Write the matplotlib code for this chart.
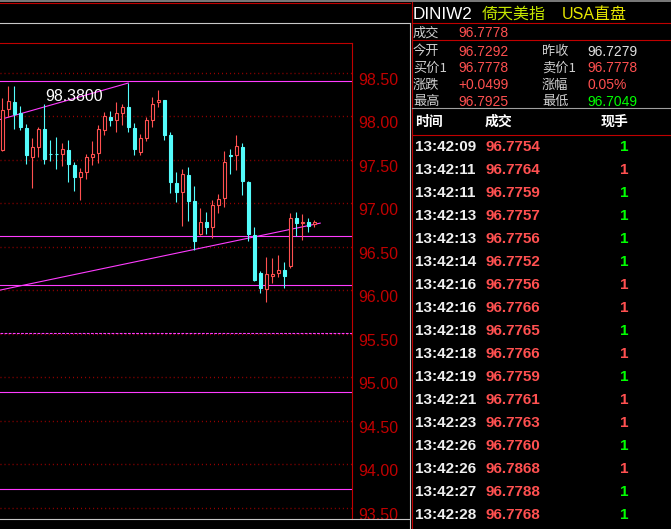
import numpy as np
import matplotlib.pyplot as plt
from matplotlib.lines import Line2D

# ---- candle data ----
opens = [97.61, 98.08, 98.16, 98.04, 97.86, 97.53, 97.65, 97.85, 97.57, 97.57,
         97.57, 97.61, 97.44, 97.30, 97.36, 97.53, 97.58, 97.84, 97.99, 97.96,
         98.04, 98.11, 97.86, 97.59, 97.75, 97.95, 98.16, 98.19, 97.78, 97.23,
         97.13, 97.32, 97.02, 96.65, 96.78, 96.73, 96.98, 97.06, 97.55, 97.55,
         97.65, 97.24, 96.63, 96.20, 96.01, 96.16, 96.20, 96.23, 96.28, 96.83,
         96.77, 96.78, 96.76]
highs = [98.21, 98.35, 98.35, 98.12, 97.91, 97.75, 97.87, 98.14, 97.73, 97.76,
         97.69, 97.73, 97.47, 97.40, 97.57, 97.71, 97.90, 98.05, 98.06, 98.16,
         98.14, 98.38, 97.92, 97.80, 97.99, 98.22, 98.30, 98.19, 97.82, 97.36,
         97.39, 97.41, 97.20, 96.94, 96.90, 97.04, 97.11, 97.60, 97.62, 97.78,
         97.69, 97.25, 96.73, 96.22, 96.38, 96.37, 96.40, 96.32, 96.89, 96.90,
         96.88, 96.83, 96.81]
lows = [97.60, 97.99, 97.85, 97.84, 97.45, 97.17, 97.53, 97.45, 97.48, 97.39,
        97.43, 97.24, 97.14, 97.04, 97.28, 97.44, 97.46, 97.78, 97.89, 97.82,
        97.90, 97.82, 97.55, 97.55, 97.71, 97.88, 98.10, 97.73, 97.12, 97.01,
        96.74, 96.79, 96.46, 96.63, 96.65, 96.60, 96.89, 96.96, 97.34, 97.38,
        97.09, 96.56, 96.11, 95.97, 95.86, 96.08, 96.15, 96.03, 96.26, 96.62,
        96.58, 96.67, 96.72]
closes = [98.07, 98.17, 98.02, 97.87, 97.55, 97.64, 97.85, 97.51, 97.56, 97.56,
          97.62, 97.45, 97.30, 97.36, 97.53, 97.57, 97.85, 98.00, 97.95, 98.04,
          98.10, 97.87, 97.62, 97.75, 97.95, 98.14, 98.19, 97.78, 97.24, 97.13,
          97.33, 97.03, 96.57, 96.78, 96.73, 96.98, 97.05, 97.47, 97.54, 97.66,
          97.25, 96.65, 96.12, 96.02, 96.19, 96.18, 96.23, 96.16, 96.83, 96.77,
          96.78, 96.74, 96.78]

# horizontal support/resistance lines and trend lines
h_levels = [98.40, 96.62, 96.06, 94.83, 93.72]
h_dashed = [95.51]
trend_a_x, trend_a_y = [-0.4, 21], [97.96, 98.38]
trend_b_x, trend_b_y = [-0.4, 53], [96.00, 96.77]
high_label = '98.3800'
y_ticks = [93.5, 94.0, 94.5, 95.0, 95.5, 96.0, 96.5, 97.0, 97.5, 98.0, 98.5]

# ---- quote panel ----
title_code = 'DINIW2'
title_name = '倚天美指'
title_mkt = 'USA直盘'
last_label, last_value = '成交', '96.7778'
q_left_labels = ['今开', '买价1', '涨跌', '最高']
q_left_values = ['96.7292', '96.7778', '+0.0499', '96.7925']
q_right_labels = ['昨收', '卖价1', '涨幅', '最低']
q_right_values = ['96.7279', '96.7778', '0.05%', '96.7049']
q_right_colors = ['#e0e0e0', '#ff5050', '#ff5050', '#00ff00']

# ---- tick list ----
tick_header = ['时间', '成交', '现手']
tick_times = ['13:42:09', '13:42:11', '13:42:11', '13:42:13', '13:42:13', '13:42:14',
              '13:42:16', '13:42:16', '13:42:18', '13:42:18', '13:42:19', '13:42:21',
              '13:42:23', '13:42:26', '13:42:26', '13:42:27', '13:42:28']
tick_prices = ['96.7754', '96.7764', '96.7759', '96.7757', '96.7756', '96.7752',
               '96.7756', '96.7766', '96.7765', '96.7766', '96.7759', '96.7761',
               '96.7763', '96.7760', '96.7868', '96.7788', '96.7768']
tick_vols = [1] * 17
tick_side = ['b', 's', 'b', 'b', 'b', 'b', 's', 's', 'b', 's', 'b', 's', 's', 'b', 's', 'b', 'b']

RED = '#ff5050'
CYAN = '#54fcfc'
MAG = '#ff3cff'
NUM = ['Liberation Sans', 'Noto Sans CJK SC']
CJK = ['Noto Sans CJK SC', 'Liberation Sans']

W, H = 671, 529
fig = plt.figure(figsize=(W / 100, H / 100), dpi=100, facecolor='black')


def fx(px):
    return px / W


def fy(py):
    return 1 - py / H


ax = fig.add_axes([0, fy(519), fx(352), (519 - 43) / H])
ax.set_facecolor('black')

o = np.array(opens)
c = np.array(closes)
x = np.arange(len(o))
up = c >= o
cols = np.where(up, RED, CYAN)

ax.vlines(x, lows, highs, colors=cols, linewidth=0.8, zorder=3)
bottoms = np.minimum(o, c)
heights = np.maximum(np.abs(c - o), 0.005)
ax.bar(x, heights, bottom=bottoms, width=0.55,
       color=np.where(up, 'black', CYAN), edgecolor=cols, linewidth=0.8, zorder=4)

for lv in h_levels:
    ax.axhline(lv, color=MAG, linewidth=0.8, zorder=2)
for lv in h_dashed:
    ax.axhline(lv, color=MAG, linewidth=0.8, linestyle=(0, (2.5, 1.2)), zorder=2)
ax.plot(trend_a_x, trend_a_y, color=MAG, linewidth=0.8, zorder=2)
ax.plot(trend_b_x, trend_b_y, color=MAG, linewidth=0.8, zorder=2)

ax.text(7.1, 98.22, high_label, color='white', fontsize=11.4, family=NUM,
        va='center', ha='left', zorder=5)

ax.set_xlim(-0.38, 58.3)
ax.set_ylim(93.37, 98.84)
ax.set_xticks([])
ax.set_yticks(y_ticks)
ax.set_yticklabels(['%.2f' % v for v in y_ticks])
ax.tick_params(axis='y', left=False, right=False, labelleft=False, labelright=True,
               pad=1, labelcolor='#c00000', labelsize=11.5)
for lab in ax.get_yticklabels():
    lab.set_va('top')
    lab.set_family(NUM)
ax.grid(axis='y', color='#a00000', linestyle=(0, (0.7, 2.2)), linewidth=1)
for s in ['left', 'bottom']:
    ax.spines[s].set_visible(False)
ax.spines['top'].set_color('#c00000')
ax.spines['right'].set_color('#c00000')
ax.spines['top'].set_linewidth(0.8)
ax.spines['right'].set_linewidth(0.8)


def fline(x0, x1, y0, y1, color, lw=0.8):
    fig.add_artist(Line2D([fx(x0), fx(x1)], [fy(y0), fy(y1)], color=color, linewidth=lw))


# frame lines
fline(0, W, 0.5, 0.5, '#909090', 1.2)
fline(0, 410, 2.5, 2.5, '#c00000')
fline(0, 410, 23, 23, '#c8c8c8')
fline(410, 410, 23, H, '#c8c8c8')
fline(0, 410, 519, 519, '#c8c8c8')
fline(412, 412, 2, H, '#c00000')
fline(412, W, 23, 23, '#c00000')
fline(412, W, 40, 40, '#c00000')
fline(412, W, 107.5, 107.5, '#a0a0a0')
fline(412, W, 135, 135, '#c00000')

# title
fig.text(fx(413), fy(14.5), title_code, color='white', fontsize=12.3, family=NUM, va='center')
fig.text(fx(482), fy(14.5), title_name, color='#c4e600', fontsize=11.5, family=CJK, va='center')
fig.text(fx(562), fy(14.5), title_mkt, color='#e6e600', fontsize=11.5, family=NUM, va='center')

# quote block
fig.text(fx(413), fy(33), last_label, color='#d0d0d0', fontsize=9.5, family=CJK, va='center')
fig.text(fx(458), fy(33), last_value, color=RED, fontsize=10, family=NUM, va='center')
row_y = [51.7, 68.3, 85, 101.7]
for i, yy in enumerate(row_y):
    fig.text(fx(413), fy(yy), q_left_labels[i], color='#d0d0d0', fontsize=9.5, family=CJK, va='center')
    fig.text(fx(458), fy(yy), q_left_values[i], color=RED, fontsize=10, family=NUM, va='center')
    fig.text(fx(542), fy(yy), q_right_labels[i], color='#d0d0d0', fontsize=9.5, family=CJK, va='center')
    fig.text(fx(587), fy(yy), q_right_values[i], color=q_right_colors[i], fontsize=10, family=NUM, va='center')

# tick table
for xx, t in zip([415, 485, 601], tick_header):
    fig.text(fx(xx), fy(122), t, color='white', fontsize=10, family=CJK,
             fontweight='bold', va='center')
for i in range(len(tick_times)):
    yy = 147.3 + 23 * i
    fig.text(fx(415), fy(yy), tick_times[i], color='#f0f0f0', fontsize=11,
             family=NUM, fontweight='bold', va='center')
    fig.text(fx(486), fy(yy), tick_prices[i], color=RED, fontsize=11,
             family=NUM, fontweight='bold', va='center')
    fig.text(fx(624.5), fy(yy), str(tick_vols[i]),
             color='#00ff00' if tick_side[i] == 'b' else RED, fontsize=11,
             family=NUM, fontweight='bold', va='center', ha='center')

fig.savefig('out.png', dpi=100, facecolor='black')
